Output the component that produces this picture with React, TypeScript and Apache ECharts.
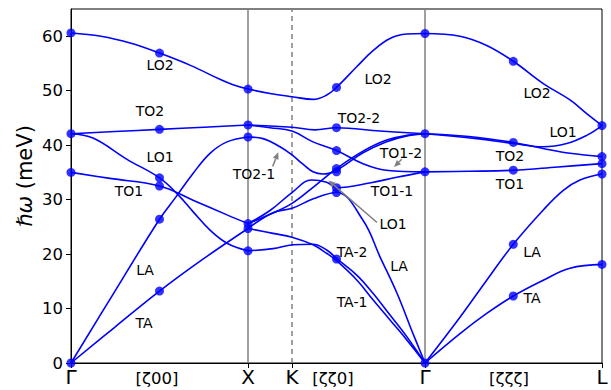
import React, { useEffect, useRef } from "react";
import * as echarts from "echarts";

// x positions of the high-symmetry points (path length units)
const tickValues = [0, 177, 221, 354, 531];
const tickLabels = ["Γ", "X", "K", "Γ", "L"];
const dirLabels = [
  { x: 86, text: "[ζ00]" },
  { x: 262, text: "[ζζ0]" },
  { x: 438, text: "[ζζζ]" },
];
const yTicks = [0, 10, 20, 30, 40, 50, 60];

// Γ – X  [ζ00]
const gxLO2 = [[0, 60.6], [30, 60.0], [60, 58.7], [88.5, 56.9], [120, 54.6], [150, 52.0], [162, 51.1], [177, 50.3]];
const gxTO2 = [[0, 42.1], [44, 42.5], [88.5, 42.9], [133, 43.3], [177, 43.7]];
const gxLO1 = [[0, 42.1], [22, 41.3], [56, 37.4], [88.5, 34.0], [106, 31.1], [122, 27.8], [139, 24.4], [156, 22.0], [177, 20.6]];
const gxTO1 = [[0, 35.0], [39, 33.9], [88.5, 32.5], [122, 29.9], [156, 27.2], [177, 25.6]];
const gxLA = [[0, 0], [44, 13.2], [88.5, 26.4], [105, 30.5], [122, 34.8], [139, 38.5], [156, 40.6], [177, 41.5]];
const gxTA = [[0, 0], [44, 6.6], [88.5, 13.2], [133, 19.2], [177, 24.7]];

// X – K – Γ  [ζζ0]
const kLO2 = [[177, 50.3], [199, 49.5], [221, 48.9], [242, 48.4], [255.7, 49.2], [265.5, 50.6], [285.7, 54.4], [302.3, 57.4], [319, 59.6], [335.7, 60.4], [354, 60.5]];
const kTO2b = [[177, 43.7], [221, 43.3], [244, 42.8], [265.5, 43.2], [309, 42.6], [354, 42.1]];
const kTO1b = [[177, 43.7], [199, 43.2], [221, 42.6], [242, 40.6], [265.5, 39.0], [292, 36.6], [315, 35.4], [354, 35.1]];
const kTO2a = [[177, 41.5], [192, 41.2], [209, 39.7], [221, 38.2], [232, 36.5], [242, 35.1], [252, 34.7], [265.5, 35.4], [292, 38.6], [315, 40.6], [336, 41.7], [354, 42.1]];
const kLO1 = [[177, 25.6], [199, 27.3], [221, 29.3], [243, 32.4], [265.5, 35.7], [292, 38.9], [315, 40.9], [336, 41.8], [354, 42.1]];
const kTO1a = [[177, 25.6], [199, 28.0], [221, 31.3], [240.7, 33.6], [255.7, 33.2], [265.5, 32.2], [300, 33.1], [325.7, 34.1], [354, 35.1]];
const kLA = [[177, 24.7], [202, 27.6], [221, 28.4], [243, 30.2], [265.5, 31.3], [292, 26.2], [309, 19.5], [326, 12.8], [342, 5.4], [354, 0]];
const kTA1 = [[177, 24.7], [202, 23.8], [221, 23.1], [242, 21.7], [256, 20.1], [265.5, 18.8], [286, 15.2], [302, 11.6], [319, 7.9], [336, 4.2], [354, 0]];
const kTA2 = [[177, 20.6], [202, 21.0], [222, 21.7], [242, 21.8], [256, 20.7], [265.5, 19.2], [286, 16.1], [302, 12.8], [319, 8.8], [336, 4.8], [354, 0]];

// Γ – L  [ζζζ]
const lLO2 = [[354, 60.5], [389, 60.0], [415.7, 58.3], [442.3, 55.4], [472.3, 51.3], [499, 48.3], [515.7, 45.8], [531, 43.6]];
const lLO1 = [[354, 42.1], [405.7, 41.2], [442.3, 40.3], [472.3, 39.7], [495.7, 40.3], [515.7, 41.8], [531, 43.6]];
const lTO2 = [[354, 42.1], [398, 41.6], [442.3, 40.5], [472, 39.4], [499, 38.5], [531, 37.9]];
const lTO1 = [[354, 35.1], [398, 35.2], [442.3, 35.4], [487, 36.0], [531, 36.6]];
const lLA = [[354, 0], [389, 8.4], [415.7, 15.2], [442.3, 21.8], [472.3, 28.1], [492.3, 31.7], [509, 33.6], [531, 34.7]];
const lTA = [[354, 0], [389, 5.4], [415.7, 9.1], [442.3, 12.3], [472.3, 15.2], [499, 17.4], [531, 18.1]];

// measured points
const dots = [
  [0, 60.6], [88.5, 56.9], [177, 50.3], [0, 42.1], [88.5, 42.9], [177, 43.7], [177, 41.5],
  [88.5, 34.0], [0, 35.0], [88.5, 32.5], [88.5, 26.4], [88.5, 13.2], [177, 25.6], [177, 24.7],
  [177, 20.6], [0, 0],
  [265.5, 50.6], [354, 60.5], [265.5, 43.2], [265.5, 39.0], [265.5, 35.7], [265.5, 35.1],
  [265.5, 32.2], [265.5, 31.3], [265.5, 19.1], [354, 42.1], [354, 35.1], [354, 0],
  [442.3, 55.4], [531, 43.6], [442.3, 40.5], [531, 37.9], [442.3, 35.4], [531, 36.6],
  [531, 34.7], [442.3, 21.8], [442.3, 12.3], [531, 18.1],
];

// branch labels [x, y, text]
const labels: [number, number, string][] = [
  [89, 54.7, "LO2"], [79, 46.2, "TO2"], [89, 37.8, "LO1"], [58, 31.6, "TO1"], [74, 17.1, "LA"], [73, 7.3, "TA"],
  [183, 34.7, "TO2-1"], [307, 52.1, "LO2"], [288, 45.0, "TO2-2"], [330, 38.5, "TO1-2"], [321, 31.5, "TO1-1"],
  [322, 25.6, "LO1"], [328, 17.8, "LA"], [281, 20.4, "TA-2"], [281, 11.2, "TA-1"],
  [466, 49.5, "LO2"], [492, 42.4, "LO1"], [439, 38.0, "TO2"], [439, 32.8, "TO1"], [461, 20.4, "LA"], [461, 11.9, "TA"],
];
// arrows [tailX, tailY, headX, headY]
const arrows: [number, number, number, number][] = [
  [201.7, 36.1, 207.3, 38.7],
  [330.7, 37.4, 323, 36.0],
  [306, 25.8, 257.5, 33.5],
];

const FONT = "DejaVu Sans";
const BLUE = "#0000ff";

export default function App() {
  const ref = useRef<HTMLDivElement>(null);
  useEffect(() => {
    if (!ref.current) return;
    const chart = echarts.init(ref.current, undefined, { renderer: "svg" });
    const branches = [
      gxLO2, gxTO2, gxLO1, gxTO1, gxLA, gxTA,
      kLO2, kTO2b, kTO1b, kTO2a, kLO1, kTO1a, kLA, kTA1, kTA2,
      lLO2, lLO1, lTO2, lTO1, lLA, lTA,
    ];
    const series: any[] = branches.map((d, i) => ({
      type: "line",
      data: d,
      smooth: 0.4,
      symbol: "none",
      silent: true,
      z: 3,
      lineStyle: { color: BLUE, width: 1.6 },
      ...(i === 0
        ? {
            markLine: {
              silent: true,
              symbol: "none",
              label: { show: false },
              z: 1,
              data: [
                { xAxis: tickValues[1], lineStyle: { color: "#808080", width: 1.5, type: "solid" } },
                { xAxis: tickValues[3], lineStyle: { color: "#808080", width: 1.5, type: "solid" } },
                { xAxis: tickValues[2], lineStyle: { color: "#808080", width: 1.5, type: [5, 4] } },
              ],
            },
          }
        : {}),
    }));
    series.push({
      type: "scatter",
      data: dots,
      symbolSize: 9,
      itemStyle: { color: BLUE },
      silent: true,
      z: 4,
    });

    chart.setOption({
      animation: false,
      backgroundColor: "#ffffff",
      textStyle: { fontFamily: FONT },
      grid: {
        left: 71, right: 9, top: 9, bottom: 27,
        show: true, borderColor: "#000", borderWidth: 1, backgroundColor: "transparent",
      },
      xAxis: {
        type: "value",
        min: 0,
        max: 531,
        splitLine: { show: false },
        axisLine: { lineStyle: { color: "#000", width: 1 } },
        axisTick: { customValues: tickValues, length: 5, lineStyle: { color: "#000" } },
        axisLabel: {
          customValues: tickValues,
          formatter: (v: number) => tickLabels[tickValues.indexOf(v)] ?? "",
          fontSize: 20,
          color: "#000",
          margin: 4,
          fontFamily: FONT,
        },
      },
      yAxis: {
        type: "value",
        min: 0,
        max: 65,
        splitLine: { show: false },
        axisLine: { show: true, lineStyle: { color: "#000", width: 1 } },
        axisTick: { show: true, customValues: yTicks, length: 5, lineStyle: { color: "#000" } },
        axisLabel: { customValues: yTicks, fontSize: 16.5, color: "#000", margin: 8, fontFamily: FONT },
      },
      series,
    });

    const px = (x: number, y: number) => chart.convertToPixel({ gridIndex: 0 }, [x, y]) as number[];
    const graphics: any[] = [];
    // y-axis title
    const mid = px(0, 32.5);
    graphics.push({
      type: "text", x: mid[0] - 46, y: mid[1] - 10, rotation: Math.PI / 2, silent: true, z: 10,
      style: {
        text: "{i|ℏω} (meV)",
        fill: "#000",
        font: `21px "${FONT}"`,
        align: "center",
        verticalAlign: "middle",
        rich: { i: { fontStyle: "italic", fontSize: 21, fontFamily: FONT, fill: "#000" } },
      },
    });
    labels.forEach(([x, y, t]) => {
      const p = px(x, y);
      graphics.push({
        type: "text", x: p[0], y: p[1], z: 10, silent: true,
        style: { text: t, fill: "#000", font: `14px "${FONT}"`, align: "center", verticalAlign: "middle" },
      });
    });
    dirLabels.forEach((d) => {
      const p = px(d.x, 0);
      graphics.push({
        type: "text", x: p[0], y: p[1] + 15, z: 10, silent: true,
        style: { text: d.text, fill: "#000", font: `16.5px "${FONT}"`, align: "center", verticalAlign: "middle" },
      });
    });
    arrows.forEach(([tx, ty, hx, hy]) => {
      const a = px(tx, ty);
      const b = px(hx, hy);
      const dx = b[0] - a[0];
      const dy = b[1] - a[1];
      const len = Math.hypot(dx, dy);
      const ux = dx / len, uy = dy / len;
      const hl = 7, hw = 3;
      const base = [b[0] - ux * hl, b[1] - uy * hl];
      graphics.push({
        type: "line", z: 10, silent: true,
        shape: { x1: a[0], y1: a[1], x2: base[0], y2: base[1] },
        style: { stroke: "#808080", lineWidth: 1.5 },
      });
      graphics.push({
        type: "polygon", z: 10, silent: true,
        shape: {
          points: [
            [b[0], b[1]],
            [base[0] - uy * hw, base[1] + ux * hw],
            [base[0] + uy * hw, base[1] - ux * hw],
          ],
        },
        style: { fill: "#808080" },
      });
    });
    chart.setOption({ graphic: graphics });

    return () => chart.dispose();
  }, []);
  return <div ref={ref} style={{ width: 611, height: 390, position: "absolute", left: 0, top: 0 }} />;
}
